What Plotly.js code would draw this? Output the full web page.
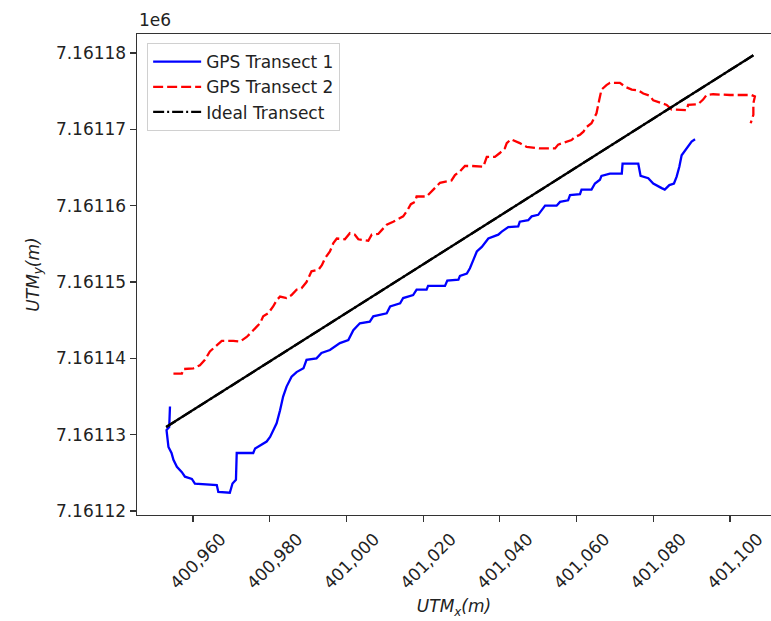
<!DOCTYPE html>
<html>
<head>
<meta charset="utf-8">
<script src="https://cdn.plot.ly/plotly-3.0.1.min.js"></script>
<style>html,body{margin:0;padding:0;background:#fff;}#chart{width:771px;height:621px;}</style>
</head>
<body>
<div id="chart"></div>
<script>
// GPS Transect 1 (UTM metres)
const gps1X = [400954.0, 400953.8, 400953.1, 400953.6, 400954.4, 400954.9, 400955.8, 400957.1, 400957.9, 400959.7, 400960.5, 400966.2, 400966.6, 400969.6, 400970.3, 400971.2, 400971.4, 400975.7, 400976.2, 400978.3, 400979.2, 400980.1, 400980.9, 400981.8, 400982.7, 400983.5, 400984.4, 400985.7, 400987.0, 400988.8, 400989.6, 400992.2, 400993.5, 400995.7, 400998.3, 401000.5, 401001.8, 401003.5, 401006.1, 401007.0, 401010.5, 401011.4, 401014.0, 401014.8, 401017.4, 401018.3, 401020.9, 401021.3, 401025.7, 401026.3, 401029.2, 401029.6, 401031.4, 401032.2, 401033.1, 401034.0, 401035.3, 401037.0, 401039.6, 401040.5, 401042.2, 401044.8, 401045.2, 401047.4, 401048.3, 401050.0, 401051.8, 401054.8, 401055.7, 401057.8, 401058.3, 401060.9, 401061.3, 401063.9, 401064.8, 401066.1, 401066.5, 401068.7, 401071.8, 401072.0, 401076.1, 401076.7, 401078.7, 401080.0, 401082.2, 401083.0, 401084.2, 401085.4, 401086.1, 401086.8, 401087.4, 401088.7, 401090.0, 401090.9];
const gps1Y = [7161133.7, 7161131.0, 7161130.6, 7161128.4, 7161127.6, 7161126.7, 7161125.8, 7161125.1, 7161124.5, 7161124.2, 7161123.6, 7161123.4, 7161122.5, 7161122.4, 7161123.6, 7161124.1, 7161127.6, 7161127.6, 7161128.2, 7161128.9, 7161129.1, 7161129.7, 7161130.6, 7161131.5, 7161133.2, 7161135.0, 7161136.3, 7161137.6, 7161138.2, 7161138.7, 7161139.8, 7161140.0, 7161140.7, 7161141.1, 7161142.0, 7161142.4, 7161143.7, 7161144.6, 7161144.8, 7161145.5, 7161145.9, 7161146.8, 7161147.2, 7161147.9, 7161148.3, 7161149.0, 7161149.0, 7161149.5, 7161149.5, 7161150.2, 7161150.3, 7161150.8, 7161151.1, 7161151.8, 7161152.9, 7161154.0, 7161154.6, 7161155.7, 7161156.2, 7161156.6, 7161157.2, 7161157.3, 7161157.9, 7161158.1, 7161158.6, 7161158.8, 7161160.0, 7161160.0, 7161160.5, 7161160.7, 7161161.4, 7161161.5, 7161162.1, 7161162.1, 7161162.9, 7161163.4, 7161163.9, 7161164.2, 7161164.2, 7161165.5, 7161165.5, 7161163.9, 7161163.6, 7161162.9, 7161162.3, 7161162.1, 7161162.7, 7161162.9, 7161163.8, 7161165.1, 7161166.6, 7161167.5, 7161168.4, 7161168.7];

// GPS Transect 2 (UTM metres)
const gps2X = [400954.9, 400957.1, 400957.5, 400960.1, 400961.8, 400963.1, 400964.4, 400965.7, 400967.5, 400970.5, 400972.3, 400974.0, 400974.9, 400976.2, 400977.5, 400978.3, 400979.6, 400980.9, 400981.8, 400982.7, 400984.4, 400985.7, 400987.0, 400988.3, 400989.6, 400990.9, 400992.7, 400993.6, 400994.4, 400995.7, 400996.6, 400997.5, 400999.6, 401000.9, 401002.2, 401003.1, 401005.7, 401006.6, 401008.3, 401009.2, 401010.5, 401012.2, 401013.5, 401014.8, 401015.9, 401016.8, 401017.9, 401018.3, 401020.9, 401022.6, 401024.4, 401027.4, 401028.3, 401029.6, 401030.9, 401032.7, 401035.7, 401036.6, 401038.7, 401040.0, 401041.3, 401041.8, 401042.9, 401045.2, 401047.0, 401050.5, 401054.4, 401055.2, 401057.0, 401058.7, 401059.6, 401060.9, 401061.8, 401062.6, 401063.9, 401065.2, 401065.9, 401066.5, 401067.8, 401068.7, 401071.3, 401072.6, 401074.4, 401076.1, 401077.4, 401079.1, 401080.0, 401081.7, 401083.5, 401084.8, 401088.7, 401089.1, 401091.7, 401093.0, 401093.9, 401095.6, 401100.0, 401105.6, 401106.5, 401106.1, 401106.1, 401105.4];
const gps2Y = [7161138.0, 7161138.0, 7161138.6, 7161138.7, 7161139.1, 7161139.8, 7161140.9, 7161141.5, 7161142.3, 7161142.3, 7161142.2, 7161142.8, 7161143.3, 7161143.9, 7161144.6, 7161145.5, 7161145.9, 7161146.8, 7161147.6, 7161148.1, 7161147.9, 7161148.3, 7161149.0, 7161149.2, 7161150.0, 7161151.4, 7161151.6, 7161152.2, 7161153.1, 7161154.0, 7161155.1, 7161155.7, 7161155.6, 7161156.4, 7161156.2, 7161155.6, 7161155.4, 7161156.2, 7161156.3, 7161156.8, 7161157.5, 7161157.9, 7161158.2, 7161158.6, 7161159.4, 7161160.2, 7161160.5, 7161161.2, 7161161.2, 7161162.1, 7161163.0, 7161163.3, 7161164.0, 7161164.5, 7161165.2, 7161165.2, 7161165.1, 7161166.4, 7161166.4, 7161166.9, 7161167.5, 7161168.2, 7161168.7, 7161168.2, 7161167.7, 7161167.5, 7161167.5, 7161168.0, 7161168.3, 7161168.6, 7161169.0, 7161169.3, 7161169.7, 7161170.3, 7161170.8, 7161172.1, 7161173.8, 7161175.2, 7161175.8, 7161176.1, 7161176.1, 7161175.6, 7161175.2, 7161175.1, 7161174.7, 7161174.4, 7161173.8, 7161173.5, 7161173.2, 7161172.6, 7161172.5, 7161173.2, 7161173.3, 7161173.9, 7161174.5, 7161174.6, 7161174.5, 7161174.5, 7161174.3, 7161173.4, 7161171.9, 7161170.8];

// Ideal transect
const idealX = [400953.0, 401106.1];
const idealY = [7161131.0, 7161179.7];

// Ticks
const xTickVals = [400960, 400980, 401000, 401020, 401040, 401060, 401080, 401100];
const xTickText = ['400,960', '400,980', '401,000', '401,020', '401,040', '401,060', '401,080', '401,100'];
const yTickVals = [7161120, 7161130, 7161140, 7161150, 7161160, 7161170, 7161180];
const yTickText = ['7.16112', '7.16113', '7.16114', '7.16115', '7.16116', '7.16117', '7.16118'];

const FONT = 'DejaVu Sans, sans-serif';

const traces = [
  {x: gps1X, y: gps1Y, mode: 'lines', name: 'GPS Transect 1',
   line: {color: '#0000ff', width: 2.3}},
  {x: gps2X, y: gps2Y, mode: 'lines', name: 'GPS Transect 2',
   line: {color: '#ff0000', width: 2.3, dash: '10px,4px'}},
  {x: idealX, y: idealY, mode: 'lines', name: 'Ideal Transect',
   line: {color: '#000000', width: 2.3, dash: '11px,3px,2px,3px'}},
  {x: idealX, y: idealY, mode: 'lines', name: 'Ideal Transect (line)', showlegend: false,
   line: {color: '#000000', width: 2.3}}
];

const layout = {
  width: 771, height: 621,
  margin: {l: 137, r: 0, t: 34, b: 106, pad: 0},
  paper_bgcolor: '#ffffff', plot_bgcolor: '#ffffff',
  font: {family: FONT, size: 17, color: '#222222'},
  showlegend: true,
  legend: {
    x: 0.016, y: 0.981, xanchor: 'left', yanchor: 'top',
    bgcolor: 'rgba(255,255,255,0.85)', bordercolor: '#d0d0d0', borderwidth: 1,
    font: {family: FONT, size: 17, color: '#222222'},
    itemwidth: 48,
    tracegroupgap: 0
  },
  xaxis: {
    range: [400945.4, 401110.7],
    tickvals: xTickVals, ticktext: xTickText,
    tickangle: -45, ticklabelshift: 28,
    ticks: 'outside', ticklen: 6, tickwidth: 1.2, tickcolor: '#333333',
    showgrid: false, zeroline: false,
    showline: true, linecolor: '#333333', linewidth: 1.4, mirror: true,
    tickfont: {family: FONT, size: 17, color: '#222222'},
    title: {text: '<i>UTM<sub>x</sub>(m)</i>', font: {family: FONT, size: 17, color: '#222222'}, standoff: 8},
    automargin: false
  },
  yaxis: {
    range: [7161119.48, 7161182.49],
    tickvals: yTickVals, ticktext: yTickText,
    ticks: 'outside', ticklen: 6, tickwidth: 1.2, tickcolor: '#333333',
    showgrid: false, zeroline: false,
    showline: true, linecolor: '#333333', linewidth: 1.4, mirror: false,
    tickfont: {family: FONT, size: 17, color: '#222222'},
    title: {text: '<i>UTM<sub>y</sub>(m)</i>', font: {family: FONT, size: 17, color: '#222222'}, standoff: 12},
    automargin: false
  },
  annotations: [
    {text: '1e6', xref: 'paper', yref: 'paper', x: 0, y: 1, xanchor: 'left', yanchor: 'bottom',
     showarrow: false, yshift: 2, font: {family: FONT, size: 17, color: '#222222'}}
  ]
};

Plotly.newPlot('chart', traces, layout, {displayModeBar: false, staticPlot: true});
</script>
</body>
</html>
